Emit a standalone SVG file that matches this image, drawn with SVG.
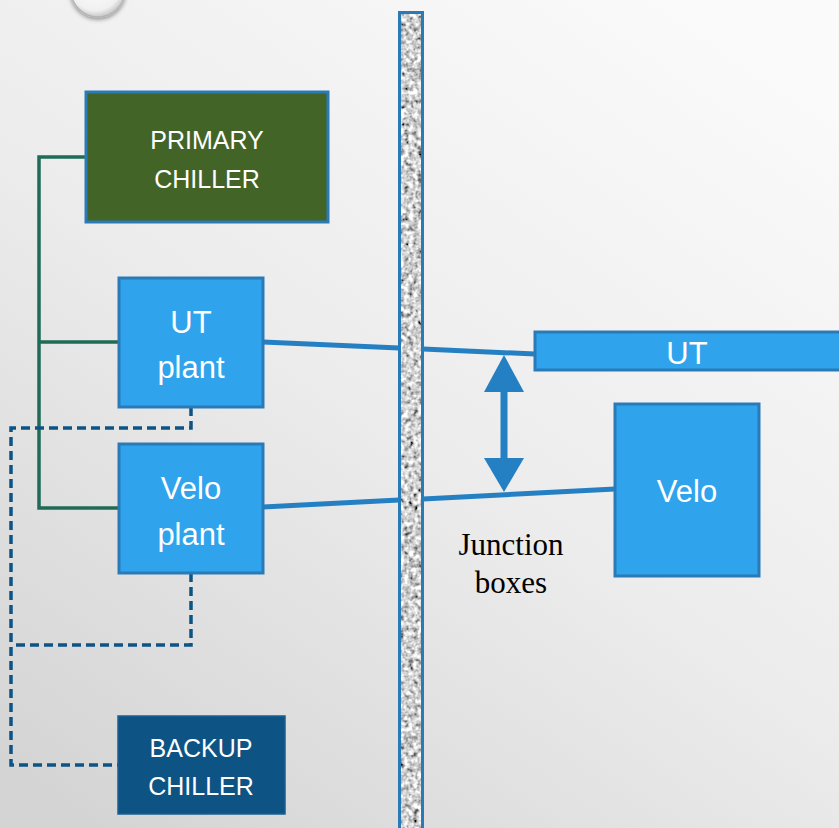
<svg xmlns="http://www.w3.org/2000/svg" width="839" height="828" viewBox="0 0 839 828">
<defs>
<linearGradient id="bg" x1="0.8" y1="0" x2="0.1" y2="1">
<stop offset="0" stop-color="#fafafa"/>
<stop offset="0.5" stop-color="#ececec"/>
<stop offset="1" stop-color="#d4d4d4"/>
</linearGradient>
<radialGradient id="knob" cx="0.45" cy="0.4" r="0.6">
<stop offset="0" stop-color="#ffffff"/>
<stop offset="0.8" stop-color="#f0f0f0"/>
<stop offset="1" stop-color="#c8c8c8"/>
</radialGradient>
<filter id="tex" x="0" y="0" width="1" height="1">
<feTurbulence type="fractalNoise" baseFrequency="0.22" numOctaves="2" seed="5" result="n"/>
<feColorMatrix type="matrix" in="n" values="0.33 0.33 0.33 0 0  0.33 0.33 0.33 0 0  0.33 0.33 0.33 0 0  0 0 0 0 1" result="g"/>
<feComponentTransfer in="g">
<feFuncR type="linear" slope="3.2" intercept="-0.95"/>
<feFuncG type="linear" slope="3.2" intercept="-0.95"/>
<feFuncB type="linear" slope="3.2" intercept="-0.95"/>
</feComponentTransfer>
</filter>
<filter id="shadow" x="-0.5" y="-0.5" width="2" height="2">
<feDropShadow dx="0" dy="2" stdDeviation="2" flood-color="#000" flood-opacity="0.4"/>
</filter>
</defs>
<style>
.box{stroke:#2a7ab8;stroke-width:3}
.lt{fill:#2fa3ec}
.wt{fill:#ffffff;font-family:"Liberation Sans",Arial,sans-serif;text-anchor:middle}
.grn{fill:none;stroke:#1f6b55;stroke-width:3.5}
.dash{fill:none;stroke:#0d5485;stroke-width:3.5;stroke-dasharray:9 5}
.pipe{fill:none;stroke:#2580c3;stroke-width:5}
</style>
<rect x="0" y="0" width="839" height="828" fill="url(#bg)"/>
<circle cx="98" cy="-10" r="27" fill="url(#knob)" stroke="#b5b5b5" stroke-width="1.5" filter="url(#shadow)"/>

<g id="wall">
<rect x="399" y="12" width="24" height="830" fill="#a0a0a0"/>
<rect x="401" y="14" width="20" height="830" filter="url(#tex)"/>
<rect x="399.5" y="12.5" width="23" height="830" fill="none" stroke="#2a7ab8" stroke-width="3"/>
</g>

<g id="connectors">
<polyline class="grn" points="86,157 39,157 39,508 119,508"/>
<line class="grn" x1="39" y1="342" x2="119" y2="342"/>
<polyline class="dash" points="191,407 191,428 11,428 11,765 118,765"/>
<polyline class="dash" points="191,573 191,645 11,645"/>
<polyline class="pipe" points="263,342 399,348"/>
<polyline class="pipe" points="423,349 535,354"/>
<polyline class="pipe" points="263,507 399,500"/>
<polyline class="pipe" points="423,499 615,489"/>
<g id="arrow" fill="#2580c3">
<rect x="500.5" y="388" width="7" height="74"/>
<polygon points="504,355 484,392 524,392"/>
<polygon points="504,492 484,458 524,458"/>
</g>
</g>

<g id="primary-chiller">
<rect class="box" x="86" y="92" width="242" height="130" fill="#436427"/>
<text class="wt" x="207" y="149" font-size="25">PRIMARY</text>
<text class="wt" x="207" y="188" font-size="25">CHILLER</text>
</g>

<g id="ut-plant">
<rect class="box lt" x="119" y="278" width="144" height="129"/>
<text class="wt" x="191" y="333" font-size="31">UT</text>
<text class="wt" x="191" y="378" font-size="31">plant</text>
</g>

<g id="velo-plant">
<rect class="box lt" x="119" y="444" width="144" height="129"/>
<text class="wt" x="191" y="499" font-size="31">Velo</text>
<text class="wt" x="191" y="545" font-size="31">plant</text>
</g>

<g id="backup-chiller">
<rect x="118" y="716" width="167" height="98" fill="#0d5485" stroke="#1a5f92" stroke-width="1.5"/>
<text class="wt" x="201" y="757" font-size="25">BACKUP</text>
<text class="wt" x="201" y="795" font-size="25">CHILLER</text>
</g>

<g id="ut">
<rect class="box lt" x="535" y="332" width="310" height="38"/>
<text class="wt" x="687" y="364" font-size="31">UT</text>
</g>

<g id="velo">
<rect class="box lt" x="615" y="404" width="144" height="172"/>
<text class="wt" x="687" y="502" font-size="31">Velo</text>
</g>

<g id="junction-label">
<text x="511" y="555" font-family="'Liberation Serif','Times New Roman',serif" font-size="31" fill="#000" text-anchor="middle">Junction</text>
<text x="511" y="593" font-family="'Liberation Serif','Times New Roman',serif" font-size="31" fill="#000" text-anchor="middle">boxes</text>
</g>
</svg>
